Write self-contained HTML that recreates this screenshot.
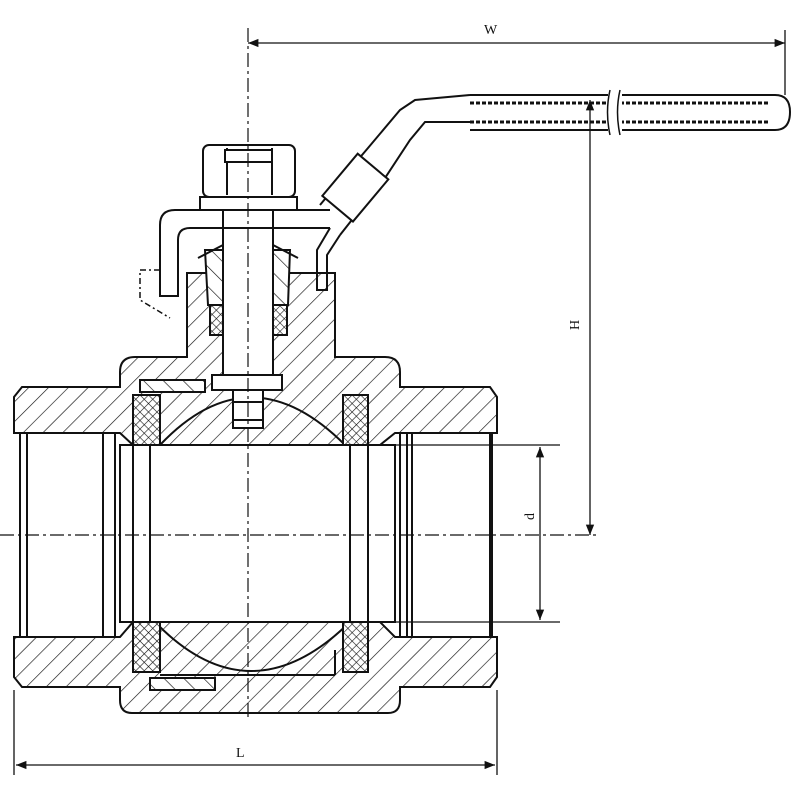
<!DOCTYPE html>
<html><head><style>html,body{margin:0;padding:0;background:#fff}svg{display:block}</style></head>
<body>
<svg width="800" height="800" viewBox="0 0 800 800" xmlns="http://www.w3.org/2000/svg" font-family="Liberation Serif, serif">
<defs>
<pattern id="h" patternUnits="userSpaceOnUse" width="14" height="14" patternTransform="rotate(45)">
<rect width="14" height="14" fill="#fff"/><line x1="0" y1="0" x2="0" y2="14" stroke="#111" stroke-width="1.3"/></pattern>
<pattern id="h2" patternUnits="userSpaceOnUse" width="14" height="14" patternTransform="rotate(-45)">
<rect width="14" height="14" fill="#fff"/><line x1="0" y1="0" x2="0" y2="14" stroke="#111" stroke-width="1.3"/></pattern>
<pattern id="x" patternUnits="userSpaceOnUse" width="6" height="6" patternTransform="rotate(45)">
<rect width="6" height="6" fill="#fff"/><line x1="0" y1="0" x2="0" y2="6" stroke="#111" stroke-width="1.2"/><line x1="0" y1="0" x2="6" y2="0" stroke="#111" stroke-width="1.2"/></pattern>
<marker id="a" viewBox="0 0 10 10" refX="10" refY="5" markerWidth="10" markerHeight="8" orient="auto-start-reverse"><path d="M0,1 L10,5 L0,9z" fill="#111"/></marker>
</defs>
<g stroke="#111" stroke-width="2" fill="none">
<!-- body upper wall -->
<path d="M22,387 L120,387 L120,372 Q120,357 135,357 L187,357 L187,273 L335,273 L335,357 L385,357 Q400,357 400,372 L400,387 L490,387 L497,397 L497,433 L395,433 L380,445 L133,445 L120,433 L14,433 L14,397 Z" fill="url(#h)"/>
<!-- body lower wall -->
<path d="M14,637 L120,637 L133,622 L380,622 L395,637 L497,637 L497,677 L490,687 L400,687 L400,700 Q400,713 388,713 L132,713 Q120,713 120,700 L120,687 L22,687 L14,677 Z" fill="url(#h)"/>
<!-- bore (white) -->
<rect x="20" y="433" width="95" height="204" fill="#fff"/>
<rect x="400" y="433" width="92" height="204" fill="#fff"/>
<rect x="120" y="445" width="275" height="177" fill="#fff"/>
<line x1="27" y1="433" x2="27" y2="637"/><line x1="103" y1="433" x2="103" y2="637"/><line x1="115" y1="433" x2="115" y2="637"/>
<line x1="407" y1="433" x2="407" y2="637"/><line x1="412" y1="433" x2="412" y2="637"/><line x1="490" y1="433" x2="490" y2="637"/>
<line x1="120" y1="445" x2="120" y2="622"/><line x1="395" y1="445" x2="395" y2="622"/>
<line x1="133" y1="445" x2="133" y2="622"/><line x1="368" y1="445" x2="368" y2="622"/>
<!-- ball top and bottom segments -->
<path d="M160,445 Q250,350 345,445 Z" fill="url(#h)"/>
<path d="M155,622 Q250,720 350,622 Z" fill="url(#h)"/>
<line x1="150" y1="445" x2="150" y2="622"/><line x1="350" y1="445" x2="350" y2="622"/>
<!-- seats -->
<rect x="133" y="395" width="27" height="50" fill="url(#x)"/>
<rect x="343" y="395" width="25" height="50" fill="url(#x)"/>
<rect x="133" y="622" width="27" height="50" fill="url(#x)"/>
<rect x="343" y="622" width="25" height="50" fill="url(#x)"/>
<!-- retainer lines -->
<path d="M140,380 L205,380 L205,392 L140,392 Z" fill="url(#h2)"/>
<path d="M150,678 L215,678 L215,690 L150,690 Z" fill="url(#h2)"/>
<line x1="160" y1="675" x2="335" y2="675"/><line x1="335" y1="675" x2="335" y2="650"/>
<!-- stem -->
<rect x="223" y="205" width="50" height="175" fill="#fff"/>
<rect x="212" y="375" width="70" height="15" fill="#fff"/>
<rect x="233" y="390" width="30" height="38" fill="#fff"/>
<line x1="233" y1="402" x2="263" y2="402"/><line x1="233" y1="420" x2="263" y2="420"/>
<!-- packing -->
<path d="M205,250 L223,250 L223,305 L208,305 Z" fill="url(#h2)"/>
<path d="M273,250 L290,250 L288,305 L273,305 Z" fill="url(#h2)"/>
<rect x="210" y="305" width="13" height="30" fill="url(#x)"/>
<rect x="273" y="305" width="14" height="30" fill="url(#x)"/>
<path d="M198,258 L223,245 M273,245 L298,258"/>
<!-- nut -->
<rect x="203" y="145" width="92" height="52" rx="6" fill="#fff"/>
<line x1="227" y1="148" x2="227" y2="195"/><line x1="272" y1="148" x2="272" y2="195"/>
<rect x="225" y="150" width="47" height="12" fill="#fff"/>
<rect x="200" y="197" width="97" height="13" fill="#fff"/>
<!-- handle plate -->
<path d="M330,210 L175,210 Q160,210 160,225 L160,296 L178,296 L178,240 Q178,228 190,228 L330,228"/>
<path d="M330,228 L317,250 L317,290 L327,290 L327,255 L340,235"/>
<!-- handle arm -->
<path d="M320,205 L345,175 L368,148 L400,110 L415,100 L470,95"/>
<path d="M340,235 L385,178 L410,140 L425,122 L470,122"/>
<rect x="335" y="160" width="40" height="55" transform="rotate(40 355 188)" fill="#fff"/>
<path d="M470,95 L775,95 Q790,95 790,112 Q790,130 775,130 L470,130"/>
<path d="M470,103 L770,103 M470,122 L770,122" stroke-dasharray="4 2" stroke-width="3"/>
<rect x="608" y="88" width="14" height="50" fill="#fff" stroke="none"/>
<path d="M610,90 Q605,112 610,135 M620,90 Q615,112 620,135" stroke-width="1.5"/>
<!-- dashed alt position -->
<path d="M160,270 L140,270 L140,300 L170,318" stroke-dasharray="6 3 2 3" stroke-width="1.5"/>
</g>
<!-- center lines -->
<g stroke="#111" stroke-width="1.2" stroke-dasharray="14 4 3 4" fill="none">
<line x1="248" y1="28" x2="248" y2="720"/>
<line x1="0" y1="535" x2="600" y2="535"/>
</g>
<!-- dimensions -->
<g stroke="#111" stroke-width="1.3" fill="none">
<line x1="248" y1="43" x2="785" y2="43" marker-start="url(#a)" marker-end="url(#a)"/>
<line x1="785" y1="30" x2="785" y2="95"/>
<line x1="590" y1="100" x2="590" y2="535" marker-start="url(#a)" marker-end="url(#a)"/>
<line x1="395" y1="445" x2="560" y2="445"/><line x1="395" y1="622" x2="560" y2="622"/>
<line x1="540" y1="447" x2="540" y2="620" marker-start="url(#a)" marker-end="url(#a)"/>
<line x1="14" y1="690" x2="14" y2="775"/><line x1="497" y1="690" x2="497" y2="775"/>
<line x1="16" y1="765" x2="495" y2="765" marker-start="url(#a)" marker-end="url(#a)"/>
</g>
<g fill="#111" font-size="14">
<text x="484" y="34">W</text>
<text x="236" y="757">L</text>
<text x="575" y="334" transform="rotate(-90 575 330)">H</text>
<text x="530" y="524" transform="rotate(-90 530 520)">d</text>
</g>
</svg>
</body></html>
